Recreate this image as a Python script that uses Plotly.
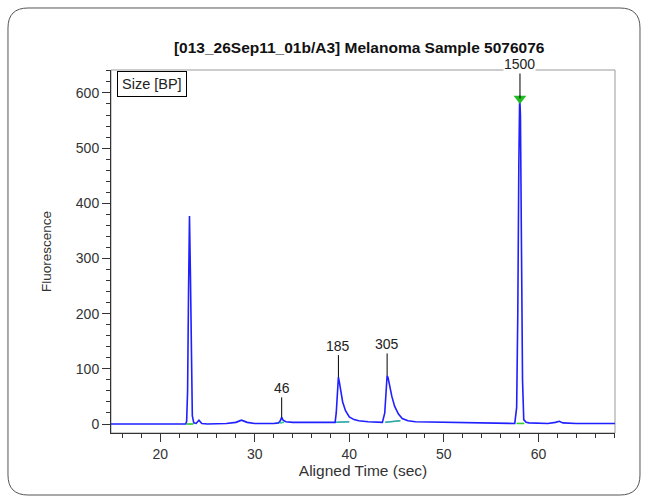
import plotly.graph_objects as go

# electropherogram trace
time_sec = [14.8, 16, 18, 20, 22, 22.7, 22.8, 22.9, 23.0, 23.1, 23.2, 23.3, 23.4, 23.55, 23.8, 24.1, 24.4,
            25, 27, 28, 28.6, 29.2, 30, 32, 32.5, 32.7, 32.85, 33.0, 33.3, 34, 36, 38, 38.5, 38.62,
            38.75, 38.85, 38.95, 39.1, 39.3, 39.6, 40.0, 40.5, 41, 42, 43.5, 43.75, 43.88, 44.0, 44.1,
            44.25, 44.5, 44.8, 45.2, 45.6, 46.2, 47, 50, 55, 57.5, 57.7, 57.82, 57.93, 58.02, 58.1,
            58.2, 58.32, 58.45, 58.7, 59, 61, 61.8, 62.2, 62.6, 64, 68.1]
fluor = [0, 0, 0, 0, 0, 0, 5, 60, 240, 377, 270, 90, 15, 2, 1, 7, 1,
         0, 1, 3, 7, 3, 1, 1, 2, 6, 12, 7, 4, 3, 3, 2, 3, 20,
         60, 85, 76, 58, 40, 24, 13, 8, 6, 4, 3, 20, 70, 88, 84,
         70, 50, 32, 18, 10, 6, 4, 3, 2, 1, 30, 200, 470, 595, 560,
         330, 80, 8, 3, 2, 1, 3, 5, 2, 1, 1]

# sized peaks
peak_time = [32.85, 38.85, 44.0, 58.05]
peak_height = [12, 85, 88, 590]
peak_label = ["46", "185", "305", "1500"]

# baseline segments under detected peaks
base_start = [22.8, 32.6, 38.6, 43.8, 57.7]
base_end = [23.5, 33.1, 40.0, 45.4, 58.5]
base_y0 = [0, 2, 3, 3, 1]
base_y1 = [0, 3, 4, 6, 1]
base_color = ["#33cc33", "#33cc99", "#33aaaa", "#33aaaa", "#33cc33"]

x_ticks = [20, 30, 40, 50, 60]
y_ticks = [0, 100, 200, 300, 400, 500, 600]

fig = go.Figure()
for s, e, a, b, c in zip(base_start, base_end, base_y0, base_y1, base_color):
    fig.add_trace(go.Scatter(x=[s, e], y=[a, b], mode="lines",
                             line=dict(color=c, width=1.5), hoverinfo="skip"))
fig.add_trace(go.Scatter(x=time_sec, y=fluor, mode="lines",
                         line=dict(color="#1f1fff", width=1.6)))
for s, e, a, b, c in zip(base_start, base_end, base_y0, base_y1, base_color):
    fig.add_trace(go.Scatter(x=[s, e], y=[a, b], mode="lines",
                             line=dict(color=c, width=1.2), opacity=0.7, hoverinfo="skip"))
fig.add_trace(go.Scatter(x=[peak_time[-1]], y=[peak_height[-1]], mode="markers",
                         marker=dict(symbol="triangle-down", size=11, color="#22bb22")))

offsets = [-20, -22, -22, -25]
for t, h, lab, off in zip(peak_time, peak_height, peak_label, offsets):
    fig.add_annotation(x=t, y=h, text=lab, showarrow=True,
                       arrowhead=0, arrowwidth=1, arrowcolor="black", ax=0, ay=off,
                       font=dict(size=14, color="#222222"), yanchor="bottom",
                       bgcolor="white" if lab == "1500" else "rgba(0,0,0,0)",
                       borderpad=0)

fig.add_annotation(xref="paper", yref="paper", x=0.012, y=0.998, xanchor="left", yanchor="top",
                   text="Size [BP]", showarrow=False, font=dict(size=14.5, color="#222222"),
                   bordercolor="black", borderwidth=1, borderpad=4, bgcolor="white")

# outer rounded frame and plot border
x0, x1, y0, y1 = -0.2044, 1.0496, -0.1708, 1.1708
rx, ry = 0.04, 0.055
frame = (f"M {x0+rx},{y1} L {x1-rx},{y1} Q {x1},{y1} {x1},{y1-ry} L {x1},{y0+ry} "
         f"Q {x1},{y0} {x1-rx},{y0} L {x0+rx},{y0} Q {x0},{y0} {x0},{y0+ry} "
         f"L {x0},{y1-ry} Q {x0},{y1} {x0+rx},{y1} Z")
fig.add_shape(type="path", path=frame, xref="paper", yref="paper",
              line=dict(color="#555555", width=1), layer="below")
fig.add_shape(type="rect", xref="paper", yref="paper", x0=0, y0=0, x1=1, y1=1,
              line=dict(color="#999999", width=1), layer="below")

fig.update_layout(
    width=646, height=501,
    margin=dict(l=111, r=31, t=70, b=68),
    paper_bgcolor="white", plot_bgcolor="white",
    showlegend=False,
    font=dict(family="Liberation Sans, Arial, sans-serif", size=13, color="#333333"),
    title=dict(text="<b>[013_26Sep11_01b/A3] Melanoma Sample 5076076</b>",
               xref="container", x=0.556, xanchor="center", y=0.906, yanchor="middle",
               font=dict(size=15.5, color="#111111")),
    xaxis=dict(range=[14.8, 68.1], tickvals=x_ticks, ticks="outside", ticklen=8,
               tickcolor="#333333", showline=True, linecolor="#333333", linewidth=1,
               showgrid=False, zeroline=False,
               minor=dict(dtick=2, ticks="outside", ticklen=4, tickcolor="#333333"),
               title=dict(text="Aligned Time (sec)", standoff=0, font=dict(size=15.5)),
               tickfont=dict(size=14)),
    yaxis=dict(range=[-16.3, 641.6], tickvals=y_ticks, ticks="outside", ticklen=8,
               tickcolor="#333333", showline=True, linecolor="#333333", linewidth=1,
               showgrid=False, zeroline=False,
               minor=dict(dtick=20, ticks="outside", ticklen=4, tickcolor="#333333"),
               title=dict(text="Fluorescence", standoff=21, font=dict(size=13.5)),
               tickfont=dict(size=14)),
)

fig.write_html("out.html", config={"displayModeBar": False},
               post_script="document.body.style.margin='0';")
